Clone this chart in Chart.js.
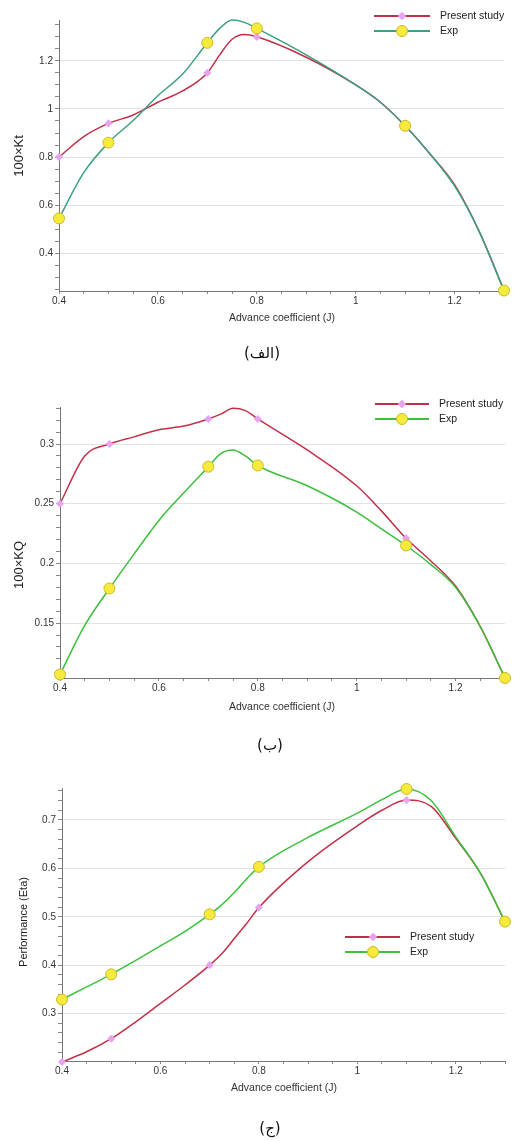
<!DOCTYPE html>
<html lang="fa">
<head>
<meta charset="UTF-8">
<title>Propeller performance curves</title>
<script src="https://cdn.jsdelivr.net/npm/chart.js@4.4.1/dist/chart.umd.min.js"></script>
<style>
  body { margin: 0; background: #fff; font-family: "Liberation Sans", Arial, sans-serif; }
  #page { position: relative; width: 515px; height: 1141px; overflow: hidden; }
  .box { position: absolute; left: 0; width: 515px; }
  .ytitle { position: absolute; color: #222; white-space: nowrap; transform: translate(-50%, -50%) rotate(-90deg); }
  .xtitle { position: absolute; font-size: 10.5px; color: #333; white-space: nowrap; transform: translate(-50%, -50%); }
  .caption { position: absolute; font-family: "DejaVu Sans", sans-serif; font-size: 15px; color: #111; transform: translate(-50%, -50%); direction: rtl; white-space: nowrap; }
  .legend { position: absolute; font-size: 10.5px; color: #222; }
  .legend .row { position: relative; height: 15px; line-height: 15px; white-space: nowrap; }
  .legend .ln { position: absolute; top: 7px; height: 1.6px; }
  .legend .mk { position: absolute; }
  .legend .tx { position: absolute; top: 0; }
</style>
</head>
<body>
<div id="page">
  <div class="box" style="top:0;height:330px"><canvas id="ktChart"></canvas></div>
  <div class="box" style="top:380px;height:330px"><canvas id="kqChart"></canvas></div>
  <div class="box" style="top:770px;height:330px"><canvas id="etaChart"></canvas></div>

  <div class="ytitle" style="left:18px;top:156px;font-size:13px">100×Kt</div>
  <div class="xtitle" style="left:282px;top:317px">Advance coefficient (J)</div>
  <div class="caption" style="left:262px;top:353px">(الف)</div>

  <div class="ytitle" style="left:18px;top:565px;font-size:13px">100×KQ</div>
  <div class="xtitle" style="left:282px;top:706px">Advance coefficient (J)</div>
  <div class="caption" style="left:270px;top:745px">(ب)</div>

  <div class="ytitle" style="left:23px;top:922px;font-size:11px">Performance (Eta)</div>
  <div class="xtitle" style="left:284px;top:1087px">Advance coefficient (J)</div>
  <div class="caption" style="left:270px;top:1128px">(ج)</div>
</div>

<script>
// measured points (markers)
const jPoints = [0.4, 0.5, 0.7, 0.8, 1.1, 1.3];
const ktPresent = [0.80, 0.94, 1.15, 1.30, 0.93, 0.245];
const ktExp = [0.545, 0.86, 1.275, 1.335, 0.93, 0.245];
const kqPresent = [0.25, 0.30, 0.321, 0.321, 0.221, 0.104];
const kqExp = [0.107, 0.179, 0.281, 0.282, 0.215, 0.104];
const etaPresent = [0.20, 0.248, 0.40, 0.519, 0.741, 0.49];
const etaExp = [0.329, 0.381, 0.505, 0.603, 0.764, 0.49];

// fitted curves
const jCurve = [0.4, 0.45, 0.5, 0.55, 0.6, 0.65, 0.7, 0.725, 0.75, 0.775, 0.8, 0.9, 1.0, 1.05, 1.1, 1.15, 1.2, 1.25, 1.3];
const ktPresentCurve = [0.80, 0.885, 0.94, 0.975, 1.028, 1.075, 1.15, 1.225, 1.29, 1.31, 1.30, 1.215, 1.10, 1.028, 0.93, 0.814, 0.685, 0.49, 0.245];
const ktExpCurve = [0.545, 0.735, 0.86, 0.952, 1.055, 1.145, 1.275, 1.335, 1.37, 1.36, 1.335, 1.225, 1.10, 1.028, 0.93, 0.814, 0.68, 0.49, 0.245];
const kqPresentCurve = [0.25, 0.29, 0.30, 0.306, 0.312, 0.315, 0.321, 0.325, 0.33, 0.328, 0.321, 0.295, 0.265, 0.244, 0.221, 0.202, 0.181, 0.147, 0.104];
const kqExpCurve = [0.107, 0.148, 0.179, 0.208, 0.236, 0.259, 0.281, 0.292, 0.295, 0.29, 0.282, 0.265, 0.243, 0.229, 0.215, 0.199, 0.18, 0.147, 0.104];
const etaPresentCurve = [0.20, 0.221, 0.248, 0.283, 0.321, 0.359, 0.40, 0.424, 0.455, 0.486, 0.519, 0.614, 0.688, 0.72, 0.741, 0.728, 0.662, 0.59, 0.49];
const etaExpCurve = [0.329, 0.355, 0.381, 0.41, 0.44, 0.47, 0.505, 0.525, 0.55, 0.578, 0.603, 0.664, 0.714, 0.742, 0.764, 0.74, 0.665, 0.59, 0.49];

const seriesNames = ['Present study', 'Exp'];
const xLabels = [0.4, 0.6, 0.8, 1, 1.2];

const RED = '#c23048';
const PINK = '#e8a2f2';
const YELLOW = '#f6ea3c';
const YELLOW_EDGE = '#cdb82a';

function isMultiple(v, step) {
  const r = v / step;
  return Math.abs(r - Math.round(r)) < 1e-6;
}
function fmt(v) {
  return String(parseFloat(v.toFixed(3)));
}
function pairs(xs, ys) {
  return xs.map((x, i) => ({ x: x, y: ys[i] }));
}

function makeChart(id, cfg) {
  const ctx = document.getElementById(id);
  return new Chart(ctx, {
    type: 'line',
    data: {
      datasets: [
        { data: pairs(jCurve, cfg.presentCurve), borderColor: RED, borderWidth: 1.5, pointRadius: 0,
          cubicInterpolationMode: 'monotone', clip: false, order: 2 },
        { data: pairs(jCurve, cfg.expCurve), borderColor: cfg.green, borderWidth: 1.5, pointRadius: 0,
          cubicInterpolationMode: 'monotone', clip: false, order: 1 },
        { data: pairs(jPoints, cfg.present), showLine: false, pointStyle: 'rectRot', pointRadius: 3.8,
          pointBackgroundColor: PINK, pointBorderColor: PINK, pointBorderWidth: 0.5, clip: false, order: 0 },
        { data: pairs(jPoints, cfg.exp), showLine: false, pointStyle: 'circle', pointRadius: 5.5,
          pointBackgroundColor: YELLOW, pointBorderColor: YELLOW_EDGE, pointBorderWidth: 1, clip: false, order: -1 }
      ]
    },
    options: {
      responsive: true,
      maintainAspectRatio: false,
      animation: false,
      events: [],
      layout: { padding: { top: cfg.padTop, right: cfg.padRight, left: 0, bottom: 0 } },
      plugins: { legend: { display: false }, tooltip: { enabled: false } },
      scales: {
        x: {
          type: 'linear', min: 0.4, max: 1.3,
          border: { color: '#777', width: 1 },
          grid: { drawOnChartArea: false, tickLength: 3, tickColor: '#888' },
          afterFit: s => { s.height = cfg.xHeight; },
          ticks: {
            stepSize: 0.05, autoSkip: false, maxRotation: 0, padding: 1,
            color: '#333', font: { size: 10, family: 'Liberation Sans' },
            callback: v => xLabels.some(t => Math.abs(t - v) < 1e-6) ? fmt(v) : ''
          }
        },
        y: {
          type: 'linear', min: cfg.yMin, max: cfg.yMax,
          border: { color: '#777', width: 1 },
          grid: {
            tickLength: 4, tickColor: '#888', lineWidth: 1,
            color: c => (c.tick && isMultiple(c.tick.value, cfg.yMajor)) ? '#e3e3e3' : 'rgba(0,0,0,0)'
          },
          afterFit: s => { s.width = cfg.yWidth; },
          ticks: {
            stepSize: cfg.yMinor, autoSkip: false, padding: 2, includeBounds: false,
            color: '#333', font: { size: 10, family: 'Liberation Sans' },
            callback: v => isMultiple(v, cfg.yMajor) ? fmt(v) : ''
          }
        }
      }
    }
  });
}

makeChart('ktChart', {
  present: ktPresent, exp: ktExp, presentCurve: ktPresentCurve, expCurve: ktExpCurve,
  green: '#3aa07e', yMin: 0.243, yMax: 1.37, yMajor: 0.2, yMinor: 0.05,
  padTop: 20, padRight: 11, xHeight: 39, yWidth: 59
});
makeChart('kqChart', {
  present: kqPresent, exp: kqExp, presentCurve: kqPresentCurve, expCurve: kqExpCurve,
  green: '#3cbf3c', yMin: 0.104, yMax: 0.331, yMajor: 0.05, yMinor: 0.01,
  padTop: 27, padRight: 10, xHeight: 32, yWidth: 60
});
makeChart('etaChart', {
  present: etaPresent, exp: etaExp, presentCurve: etaPresentCurve, expCurve: etaExpCurve,
  green: '#3cc23c', yMin: 0.202, yMax: 0.766, yMajor: 0.1, yMinor: 0.02,
  padTop: 18, padRight: 10, xHeight: 39, yWidth: 62
});

// legends
function addLegend(left, top, green, lineW) {
  const lg = document.createElement('div');
  lg.className = 'legend';
  lg.style.left = left + 'px';
  lg.style.top = top + 'px';
  const rows = [
    { name: seriesNames[0], color: RED, mk: 'width:6px;height:6px;background:' + PINK + ';transform:rotate(45deg);top:4.5px;left:' + (lineW / 2 - 3) + 'px' },
    { name: seriesNames[1], color: green, mk: 'width:10px;height:10px;border-radius:50%;background:' + YELLOW + ';border:1px solid ' + YELLOW_EDGE + ';top:1.5px;left:' + (lineW / 2 - 6) + 'px' }
  ];
  rows.forEach(r => {
    const row = document.createElement('div');
    row.className = 'row';
    row.innerHTML = '<span class="ln" style="left:0;width:' + lineW + 'px;background:' + r.color + '"></span>' +
      '<span class="mk" style="' + r.mk + '"></span>' +
      '<span class="tx" style="left:' + (lineW + 10) + 'px">' + r.name + '</span>';
    lg.appendChild(row);
  });
  document.getElementById('page').appendChild(lg);
}
addLegend(374, 8, '#3aa07e', 56);
addLegend(375, 396, '#3cbf3c', 54);
addLegend(345, 929, '#3cc23c', 55);
</script>
</body>
</html>
